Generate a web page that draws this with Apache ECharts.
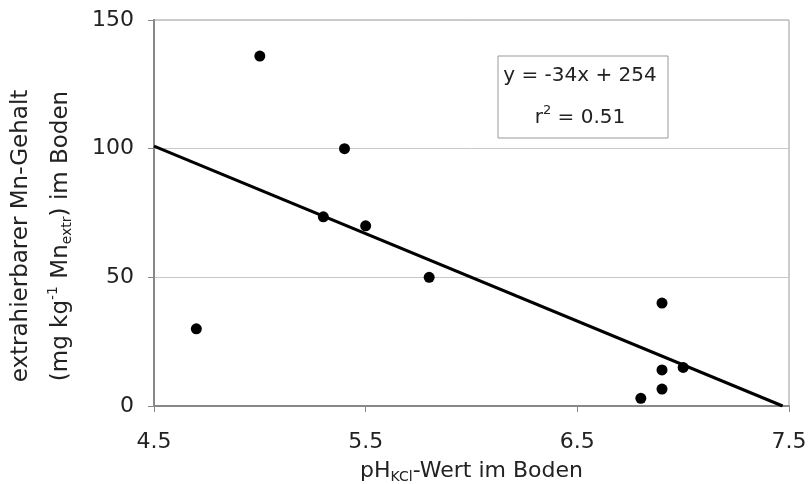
<!DOCTYPE html>
<html><head><meta charset="utf-8">
<script src="https://cdn.jsdelivr.net/npm/echarts@6/dist/echarts.min.js"></script>
<style>html,body{margin:0;padding:0;background:#fff}#c{width:811px;height:484px}</style>
</head><body><div id="c"></div>
<script>
const phValues = [4.7, 5.0, 5.3, 5.4, 5.5, 5.8, 6.8, 6.9, 6.9, 6.9, 7.0];
const mnValues = [30, 136, 73.5, 100, 70, 50, 3, 6.6, 14, 40, 15];
const trendX = [4.5, 7.47];
const trendY = [101, 0];
const xTicks = [4.5, 5.5, 6.5, 7.5];
const yTicks = [0, 50, 100, 150];
const eqLines = ['y = -34x + 254', 'r² = 0.51'];

const FONT = 'DejaVu Sans';
const FS = 22;
const chart = echarts.init(document.getElementById('c'), null, {renderer: 'canvas'});
chart.setOption({
  animation: false,
  backgroundColor: '#fff',
  textStyle: {fontFamily: FONT, color: '#222'},
  grid: {left: 154, right: 22, top: 20, bottom: 78, show: true, borderColor: '#999', borderWidth: 1,
         containLabel: false, outerBoundsMode: 'none'},
  xAxis: {
    type: 'value', min: 4.5, max: 7.5, interval: 1,
    axisLine: {show: true, lineStyle: {color: '#888', width: 2}},
    axisTick: {show: true, inside: false, length: 6, lineStyle: {color: '#888'}},
    splitLine: {show: false},
    axisLabel: {fontSize: FS, color: '#222', margin: 25, fontFamily: FONT,
      formatter: v => xTicks.includes(+v.toFixed(1)) ? v.toFixed(1) : ''},
    name: '{a|pH}{s|KCl}{a|-Wert im Boden}',
    nameLocation: 'middle', nameGap: 52,
    nameTextStyle: {rich: {
      a: {fontSize: FS, fontFamily: FONT, color: '#222', lineHeight: 26, verticalAlign: 'middle'},
      s: {fontSize: 14, fontFamily: FONT, color: '#222', lineHeight: 14, verticalAlign: 'middle', padding: [12, 0, 0, 0]}
    }}
  },
  yAxis: {
    type: 'value', min: 0, max: 150, interval: 50,
    axisLine: {show: true, lineStyle: {color: '#888', width: 2}},
    axisTick: {show: true, inside: false, length: 6, lineStyle: {color: '#888'}},
    splitLine: {show: true, lineStyle: {color: '#c8c8c8', width: 1}},
    axisLabel: {fontSize: FS, color: '#222', margin: 20, fontFamily: FONT,
      formatter: v => yTicks.includes(v) ? String(v) : ''},
    name: '{a|extrahierbarer Mn-Gehalt}\n{a|(mg kg}{sup|-1}{a| Mn}{sub|extr}{a|) im Boden}',
    nameLocation: 'middle', nameGap: 71, nameRotate: 90,
    nameTextStyle: {lineHeight: 40, padding: [0, 46, 0, 0], rich: {
      a: {fontSize: 23, fontFamily: FONT, color: '#222', lineHeight: 40, verticalAlign: 'middle'},
      sup: {fontSize: 14, fontFamily: FONT, color: '#222', lineHeight: 14, verticalAlign: 'middle', padding: [0, 0, 16, 0]},
      sub: {fontSize: 14, fontFamily: FONT, color: '#222', lineHeight: 14, verticalAlign: 'middle', padding: [12, 0, 0, 0]}
    }}
  },
  series: [
    {
      type: 'line', data: trendX.map((x, i) => [x, trendY[i]]),
      symbol: 'none', lineStyle: {color: '#000', width: 3}, z: 2
    },
    {
      type: 'scatter', data: phValues.map((x, i) => [x, mnValues[i]]),
      symbol: 'circle', symbolSize: 11, itemStyle: {color: '#000', opacity: 1}, z: 3
    }
  ],
  graphic: [
    {type: 'rect', x: 498, y: 56, shape: {width: 170, height: 82},
     style: {fill: '#fff', stroke: '#999', lineWidth: 1}, z: 10},
    {type: 'text', x: 580, y: 76, style: {text: eqLines[0], font: '20px "DejaVu Sans"', fill: '#222', align: 'center', verticalAlign: 'middle'}, z: 11},
    {type: 'text', x: 580, y: 118, style: {
      text: '{a|r}{s|2}{a| = 0.51}', align: 'center', verticalAlign: 'middle',
      rich: {a: {fontSize: 20, fontFamily: FONT, fill: '#222', lineHeight: 26, verticalAlign: 'middle'},
             s: {fontSize: 13, fontFamily: FONT, fill: '#222', lineHeight: 13, verticalAlign: 'middle', padding: [0, 0, 14, 0]}}
    }, z: 11}
  ]
});
</script></body></html>
